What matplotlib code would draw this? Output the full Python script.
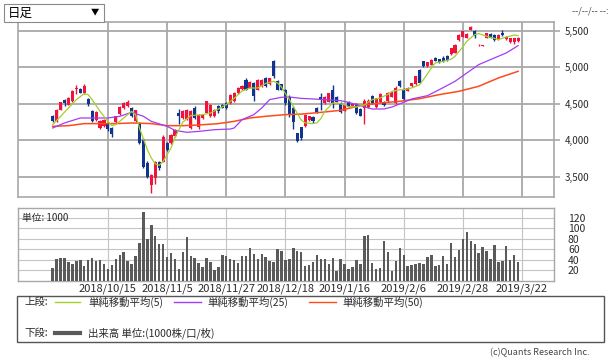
import matplotlib
matplotlib.use("Agg")
import matplotlib.pyplot as plt
from matplotlib.patches import Rectangle
from matplotlib.lines import Line2D

plt.rcParams['font.family'] = ['Noto Sans CJK JP', 'DejaVu Sans']

# daily candles (yen)
opens = [4330, 4260, 4420, 4555, 4490, 4535, 4705, 4705, 4650, 4560,
         4400, 4275, 4170, 4200, 4240, 4170, 4250, 4355, 4440, 4465,
         4450, 4260, 4235, 4005, 3690, 3390, 3480, 3700, 3710, 3960,
         3960, 4055, 4380, 4300, 4290, 4170, 4450, 4180, 4300, 4375,
         4330, 4330, 4470, 4490, 4510, 4510, 4535, 4650, 4700, 4830,
         4720, 4785, 4695, 4740, 4855, 4765, 5080, 4810, 4765, 4690,
         4600, 4450, 4095, 4185, 4200, 4280, 4320, 4445, 4600, 4510,
         4530, 4690, 4600, 4510, 4405, 4530, 4475, 4505, 4430, 4440,
         4460, 4610, 4455, 4520, 4525, 4535, 4595, 4510, 4810, 4690,
         4680, 4740, 4765, 4965, 5080, 5015, 5035, 5130, 5110, 5130,
         5150, 5175, 5200, 5370, 5415, 5400, 5515, 5490, 5300, 5295,
         5400, 5460, 5445, 5380, 5470, 5380, 5340, 5350, 5360]
highs = [4345, 4430, 4530, 4565, 4590, 4690, 4755, 4720, 4765, 4580,
         4410, 4405, 4275, 4290, 4250, 4180, 4340, 4470, 4520, 4555,
         4460, 4420, 4250, 4040, 3720, 3535, 3720, 3720, 4070, 3980,
         4085, 4150, 4430, 4420, 4430, 4410, 4470, 4360, 4360, 4545,
         4500, 4430, 4490, 4500, 4520, 4635, 4660, 4730, 4760, 4850,
         4815, 4795, 4840, 4840, 4870, 4860, 5095, 4830, 4775, 4700,
         4620, 4470, 4100, 4190, 4360, 4340, 4330, 4460, 4650, 4610,
         4650, 4760, 4610, 4520, 4490, 4540, 4515, 4515, 4440, 4560,
         4560, 4620, 4585, 4650, 4540, 4660, 4665, 4740, 4830, 4720,
         4725, 4790, 4880, 4975, 5090, 5075, 5110, 5140, 5120, 5150,
         5170, 5270, 5320, 5450, 5495, 5465, 5560, 5510, 5315, 5310,
         5475, 5470, 5455, 5450, 5510, 5425, 5400, 5405, 5410]
lows = [4250, 4255, 4410, 4475, 4485, 4530, 4640, 4645, 4640, 4475,
        4250, 4270, 4160, 4190, 4130, 4050, 4240, 4350, 4430, 4455,
        4320, 4250, 3950, 3620, 3490, 3280, 3400, 3600, 3700, 3860,
        3950, 4050, 4230, 4295, 4280, 4160, 4290, 4150, 4290, 4370,
        4320, 4320, 4380, 4440, 4435, 4505, 4530, 4640, 4690, 4690,
        4715, 4535, 4690, 4735, 4735, 4760, 4860, 4690, 4690, 4490,
        4320, 4150, 3980, 4000, 4190, 4270, 4240, 4380, 4415, 4500,
        4525, 4440, 4520, 4380, 4400, 4455, 4470, 4365, 4335, 4220,
        4450, 4505, 4450, 4515, 4470, 4530, 4590, 4505, 4735, 4555,
        4675, 4735, 4760, 4785, 5010, 5010, 5030, 5080, 5060, 5070,
        5090, 5170, 5190, 5360, 5410, 5395, 5510, 5400, 5295, 5290,
        5395, 5395, 5365, 5375, 5430, 5375, 5330, 5320, 5340]
closes = [4260, 4420, 4520, 4510, 4580, 4670, 4715, 4655, 4740, 4500,
          4260, 4395, 4265, 4280, 4150, 4085, 4330, 4455, 4510, 4530,
          4335, 4410, 3960, 3640, 3505, 3525, 3710, 3630, 4050, 3870,
          4075, 4145, 4340, 4400, 4420, 4400, 4300, 4350, 4350, 4535,
          4490, 4420, 4400, 4445, 4440, 4625, 4650, 4715, 4740, 4695,
          4805, 4605, 4830, 4830, 4740, 4855, 4880, 4695, 4695, 4510,
          4350, 4250, 3995, 4030, 4350, 4330, 4260, 4395, 4555, 4600,
          4645, 4510, 4530, 4385, 4485, 4460, 4505, 4370, 4340, 4540,
          4540, 4515, 4580, 4640, 4480, 4650, 4660, 4720, 4740, 4560,
          4715, 4785, 4875, 4790, 5015, 5070, 5105, 5085, 5070, 5080,
          5100, 5265, 5310, 5445, 5490, 5460, 5550, 5425, 5310, 5305,
          5470, 5400, 5370, 5445, 5440, 5420, 5395, 5395, 5400]

# volume (1000 shares)
volume = [25, 42, 44, 44, 37, 33, 38, 40, 29, 40, 44, 39, 40, 33, 23, 31,
          42, 49, 56, 39, 33, 47, 72, 131, 80, 107, 86, 70, 70, 46, 53, 42,
          23, 56, 84, 47, 44, 35, 27, 44, 37, 21, 27, 49, 48, 42, 40, 35,
          47, 47, 63, 51, 42, 51, 46, 39, 37, 60, 57, 40, 42, 63, 57, 55,
          28, 30, 37, 49, 42, 42, 32, 44, 19, 42, 33, 22, 26, 40, 33, 86,
          88, 35, 22, 24, 77, 56, 19, 39, 63, 50, 29, 31, 33, 35, 33, 46,
          49, 29, 31, 47, 33, 72, 46, 59, 80, 93, 76, 71, 53, 65, 58, 42,
          69, 37, 39, 67, 40, 49, 37]

# moving averages read at some candle positions
ma5_idx = [0, 2, 4, 6, 8, 9, 10, 12, 14, 15, 16, 18, 20, 21, 22, 24, 25, 26,
           27, 28, 30, 31, 33, 35, 38, 40, 42, 44, 46, 48, 50, 52, 54, 56, 57,
           58, 59, 60, 61, 62, 63, 64, 66, 67, 68, 69, 71, 72, 74, 75, 77, 79,
           81, 83, 85, 86, 88, 89, 91, 93, 94, 96, 97, 99, 101, 102, 104, 105,
           107, 108, 110, 112, 113, 115, 117, 118]
ma5_val = [4216, 4330, 4444, 4558, 4640, 4626, 4558, 4398, 4261, 4202, 4216,
           4307, 4398, 4353, 4170, 3874, 3760, 3680, 3660, 3714, 3897, 4040,
           4250, 4340, 4353, 4375, 4430, 4489, 4575, 4675, 4717, 4717, 4780,
           4808, 4786, 4730, 4640, 4560, 4466, 4370, 4280, 4240, 4230, 4240,
           4300, 4400, 4510, 4512, 4489, 4460, 4457, 4485, 4558, 4580, 4630,
           4670, 4694, 4694, 4717, 4760, 4831, 4990, 5059, 5082, 5110, 5150,
           5280, 5356, 5447, 5460, 5424, 5395, 5378, 5415, 5440, 5433]
ma25_idx = [0, 3, 7, 10, 14, 17, 20, 23, 25, 29, 31, 34, 37, 41, 45, 46, 48,
            51, 53, 55, 58, 60, 63, 66, 69, 73, 75, 78, 81, 84, 86, 89, 91,
            95, 98, 102, 105, 108, 112, 115, 118]
ma25_val = [4170, 4239, 4307, 4307, 4307, 4330, 4384, 4330, 4261, 4193, 4138,
            4111, 4124, 4147, 4156, 4170, 4284, 4353, 4444, 4558, 4590, 4594,
            4575, 4567, 4558, 4544, 4521, 4476, 4430, 4430, 4457, 4521, 4567,
            4612, 4694, 4808, 4922, 5036, 5128, 5196, 5296]
ma50_idx = [0, 4, 8, 12, 16, 20, 25, 29, 33, 37, 42, 46, 50, 54, 59, 63, 68,
            73, 78, 83, 88, 93, 98, 103, 108, 113, 118]
ma50_val = [4193, 4202, 4230, 4230, 4230, 4239, 4230, 4202, 4202, 4211, 4230,
            4261, 4307, 4330, 4353, 4360, 4384, 4412, 4476, 4512, 4535, 4571,
            4626, 4672, 4740, 4854, 4945]

grid_idx = [14, 29, 44, 59, 74, 89, 104, 119]
grid_dates = ['2018/10/15', '2018/11/5', '2018/11/27', '2018/12/18',
              '2019/1/16', '2019/2/6', '2019/2/28', '2019/3/22']
price_ticks = [3500, 4000, 4500, 5000, 5500]
vol_ticks = [20, 40, 60, 80, 100, 120]

W, H = 610, 363
fig = plt.figure(figsize=(W / 100, H / 100), dpi=100)

def fx(px):
    return px / W

def fy(py):
    return 1 - py / H

up_c = '#f0143c'
down_c = '#11358f'
grid_c = '#a8a8a8'
txt_c = '#2a2a2a'

# price panel
ax = fig.add_axes([fx(18), fy(197), fx(554) - fx(18), fy(22) - fy(197)])
n = len(closes)
for i in range(n):
    o, h, l, c = opens[i], highs[i], lows[i], closes[i]
    col = up_c if c >= o else down_c
    ax.vlines(i, l, h, color=col, lw=1, zorder=3)
    ax.bar(i, max(abs(c - o), 8), bottom=min(o, c), width=0.78, color=col,
           lw=0, zorder=4)
ax.plot(ma50_idx, ma50_val, color='#ff4a1a', lw=1.1, zorder=5)
ax.plot(ma25_idx, ma25_val, color='#a23cf5', lw=0.9, zorder=5)
ax.plot(ma5_idx, ma5_val, color='#a2d02a', lw=0.9, zorder=6)

ax.set_xlim(-8.8, 127.1)
ax.set_ylim(3227, 5619)
ax.set_xticks(grid_idx)
ax.set_xticklabels([])
ax.set_yticks(price_ticks)
ax.set_yticklabels(['{:,}'.format(v) for v in price_ticks])
ax.yaxis.tick_right()
ax.tick_params(axis='y', length=4, width=1.2, color=grid_c, pad=4,
               labelsize=7, labelcolor=txt_c)
ax.tick_params(axis='x', length=0)
ax.grid(True, color=grid_c, lw=1.3, zorder=0)
for s in ax.spines.values():
    s.set_color(grid_c)
    s.set_linewidth(1.2)

# volume panel
axv = fig.add_axes([fx(18), fy(281), fx(554) - fx(18), fy(208) - fy(281)])
axv.bar(range(n), volume, width=0.62, color='#5a5a5a', lw=0, zorder=3)
axv.set_xlim(-8.8, 127.1)
axv.set_ylim(0, 139)
axv.set_xticks(grid_idx)
axv.set_xticklabels(grid_dates)
axv.set_yticks(vol_ticks)
axv.yaxis.tick_right()
axv.tick_params(axis='y', length=0, pad=10, labelsize=7.5, labelcolor=txt_c)
axv.tick_params(axis='x', length=0, pad=1.5, labelsize=8, labelcolor=txt_c)
axv.grid(True, color='#c4c4c4', lw=0.8, zorder=0)
for s in axv.spines.values():
    s.set_color(grid_c)
    s.set_linewidth(1)
axv.text(0.008, 0.93, '単位: 1000', transform=axv.transAxes, fontsize=7,
         va='top', ha='left', color=txt_c)

# period selector box
fig.patches.append(Rectangle((fx(4), fy(22)), fx(104) - fx(4), fy(4) - fy(22),
                             transform=fig.transFigure, facecolor='white',
                             edgecolor='#8a8a8a', lw=0.8, zorder=10))
fig.text(fx(8), fy(13), '日足', fontsize=9, va='center', ha='left', zorder=11)
fig.text(fx(95), fy(12), '▼', fontsize=6, va='center', ha='center', zorder=11)
fig.text(fx(609), fy(11), '--/--/-- --:', fontsize=6.5, va='center', ha='right',
         color='#444444')

# legend box
fig.patches.append(Rectangle((fx(17), fy(342)), fx(604) - fx(17), fy(296) - fy(342),
                             transform=fig.transFigure, facecolor='none',
                             edgecolor='#555555', lw=1))
leg_fs = 7.5
fig.text(fx(24), fy(302), '上段:', fontsize=leg_fs, va='center', color=txt_c)
fig.lines.append(Line2D([fx(55), fx(80)], [fy(302), fy(302)],
                        transform=fig.transFigure, color='#a2d02a', lw=1))
fig.text(fx(88), fy(302), '単純移動平均(5)', fontsize=leg_fs, va='center', color=txt_c)
fig.lines.append(Line2D([fx(174), fx(201)], [fy(302), fy(302)],
                        transform=fig.transFigure, color='#a23cf5', lw=1))
fig.text(fx(207), fy(302), '単純移動平均(25)', fontsize=leg_fs, va='center', color=txt_c)
fig.lines.append(Line2D([fx(309), fx(336)], [fy(302), fy(302)],
                        transform=fig.transFigure, color='#ff4a1a', lw=1))
fig.text(fx(342), fy(302), '単純移動平均(50)', fontsize=leg_fs, va='center', color=txt_c)
fig.text(fx(24), fy(333), '下段:', fontsize=leg_fs, va='center', color=txt_c)
fig.lines.append(Line2D([fx(55), fx(80)], [fy(333), fy(333)],
                        transform=fig.transFigure, color='#5a5a5a', lw=3))
fig.text(fx(88), fy(333), '出来高 単位:(1000株/口/枚)', fontsize=leg_fs, va='center',
         color=txt_c)

fig.text(fx(589), fy(353), '(c)Quants Research Inc.', fontsize=6.5, va='center',
         ha='right', color='#444444')

fig.savefig('out.png', dpi=100)
